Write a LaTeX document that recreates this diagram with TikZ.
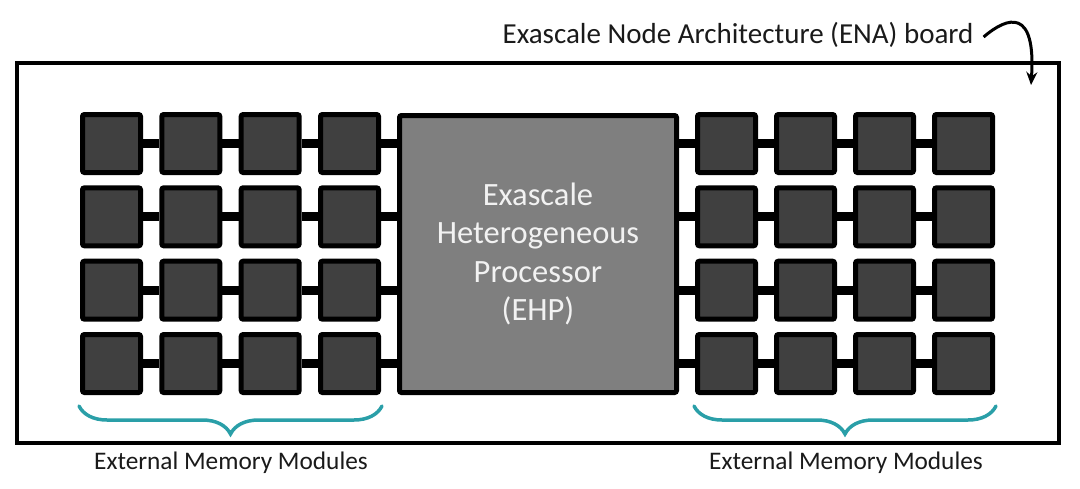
\documentclass[tikz,border=0pt]{standalone}
\usepackage{fontspec}
\setmainfont{Carlito}
\usetikzlibrary{arrows.meta,decorations.pathreplacing,calc}
\definecolor{memfill}{HTML}{404040}
\definecolor{ehpfill}{HTML}{7F7F7F}
\definecolor{bracecol}{HTML}{2A9FA8}
\definecolor{txt}{HTML}{1A1A1A}
\begin{document}
\begin{tikzpicture}[x=1pt,y=-1pt,
  mem/.style={draw=black,fill=memfill,line width=5pt,minimum size=58pt,inner sep=0pt,rounded corners=2pt},
  conn/.style={draw=black,line width=9pt},
  brc/.style={draw=bracecol,line width=3.5pt,line cap=round,decorate,decoration={brace,mirror,amplitude=28pt,aspect=0.5}},
  lbl/.style={text=txt,font=\fontsize{25.3}{30}\selectfont,inner sep=0pt}]
\useasboundingbox (0,0) rectangle (1080,488);
% board
\node (board) [draw=black,line width=4pt,minimum width=1042pt,minimum height=380pt,inner sep=0pt] at (538,253) {};
% title
\node (title) [text=txt,font=\fontsize{29}{34}\selectfont,inner sep=0pt] at (738,35) {Exascale Node Architecture (ENA) board};
\coordinate (tip) at (1031,85);
\draw[line width=3pt,-{Stealth[length=13pt,width=11pt]}] ([xshift=10pt,yshift=-2pt]title.east) .. controls (1008,16) and (1036,8) .. (tip);
% EHP
\node (ehp) [draw=black,fill=ehpfill,line width=5pt,minimum size=277pt,inner sep=0pt,rounded corners=2pt,
  text=white!95!black,align=center,font=\fontsize{32.5}{38.5}\selectfont] at (538,254)
  {Exascale\\Heterogeneous\\Processor\\(EHP)};
% memory blocks
\foreach \r/\y in {1/143.5,2/216.8,3/290.2,4/363.5}{
  \foreach \c/\x in {1/111.5,2/190.8,3/270.2,4/349.5}{
    \node[mem] (L\r\c) at (\x,\y) {};
  }
  \foreach \c/\x in {1/726.5,2/805.5,3/884.5,4/963.5}{
    \node[mem] (R\r\c) at (\x,\y) {};
  }
}
% connectors
\foreach \r in {1,2,3,4}{
  \draw[conn] (L\r1.east) -- (L\r2.west);
  \draw[conn] (L\r2.east) -- (L\r3.west);
  \draw[conn] (L\r3.east) -- (L\r4.west);
  \draw[conn] (L\r4.east) -- (L\r4.east -| ehp.west);
  \draw[conn] (R\r1.west -| ehp.east) -- (R\r1.west);
  \draw[conn] (R\r1.east) -- (R\r2.west);
  \draw[conn] (R\r2.east) -- (R\r3.west);
  \draw[conn] (R\r3.east) -- (R\r4.west);
}
% braces
\draw[brc] ([yshift=-11pt,xshift=-1pt]L41.south west) -- ([yshift=-11pt,xshift=1pt]L44.south east);
\draw[brc] ([yshift=-11pt,xshift=-1pt]R41.south west) -- ([yshift=-11pt,xshift=1pt]R44.south east);
% labels
\node[lbl] (lmods) at (231,463) {External Memory Modules};
\node[lbl] (rmods) at (846,463) {External Memory Modules};
\end{tikzpicture}
\end{document}
